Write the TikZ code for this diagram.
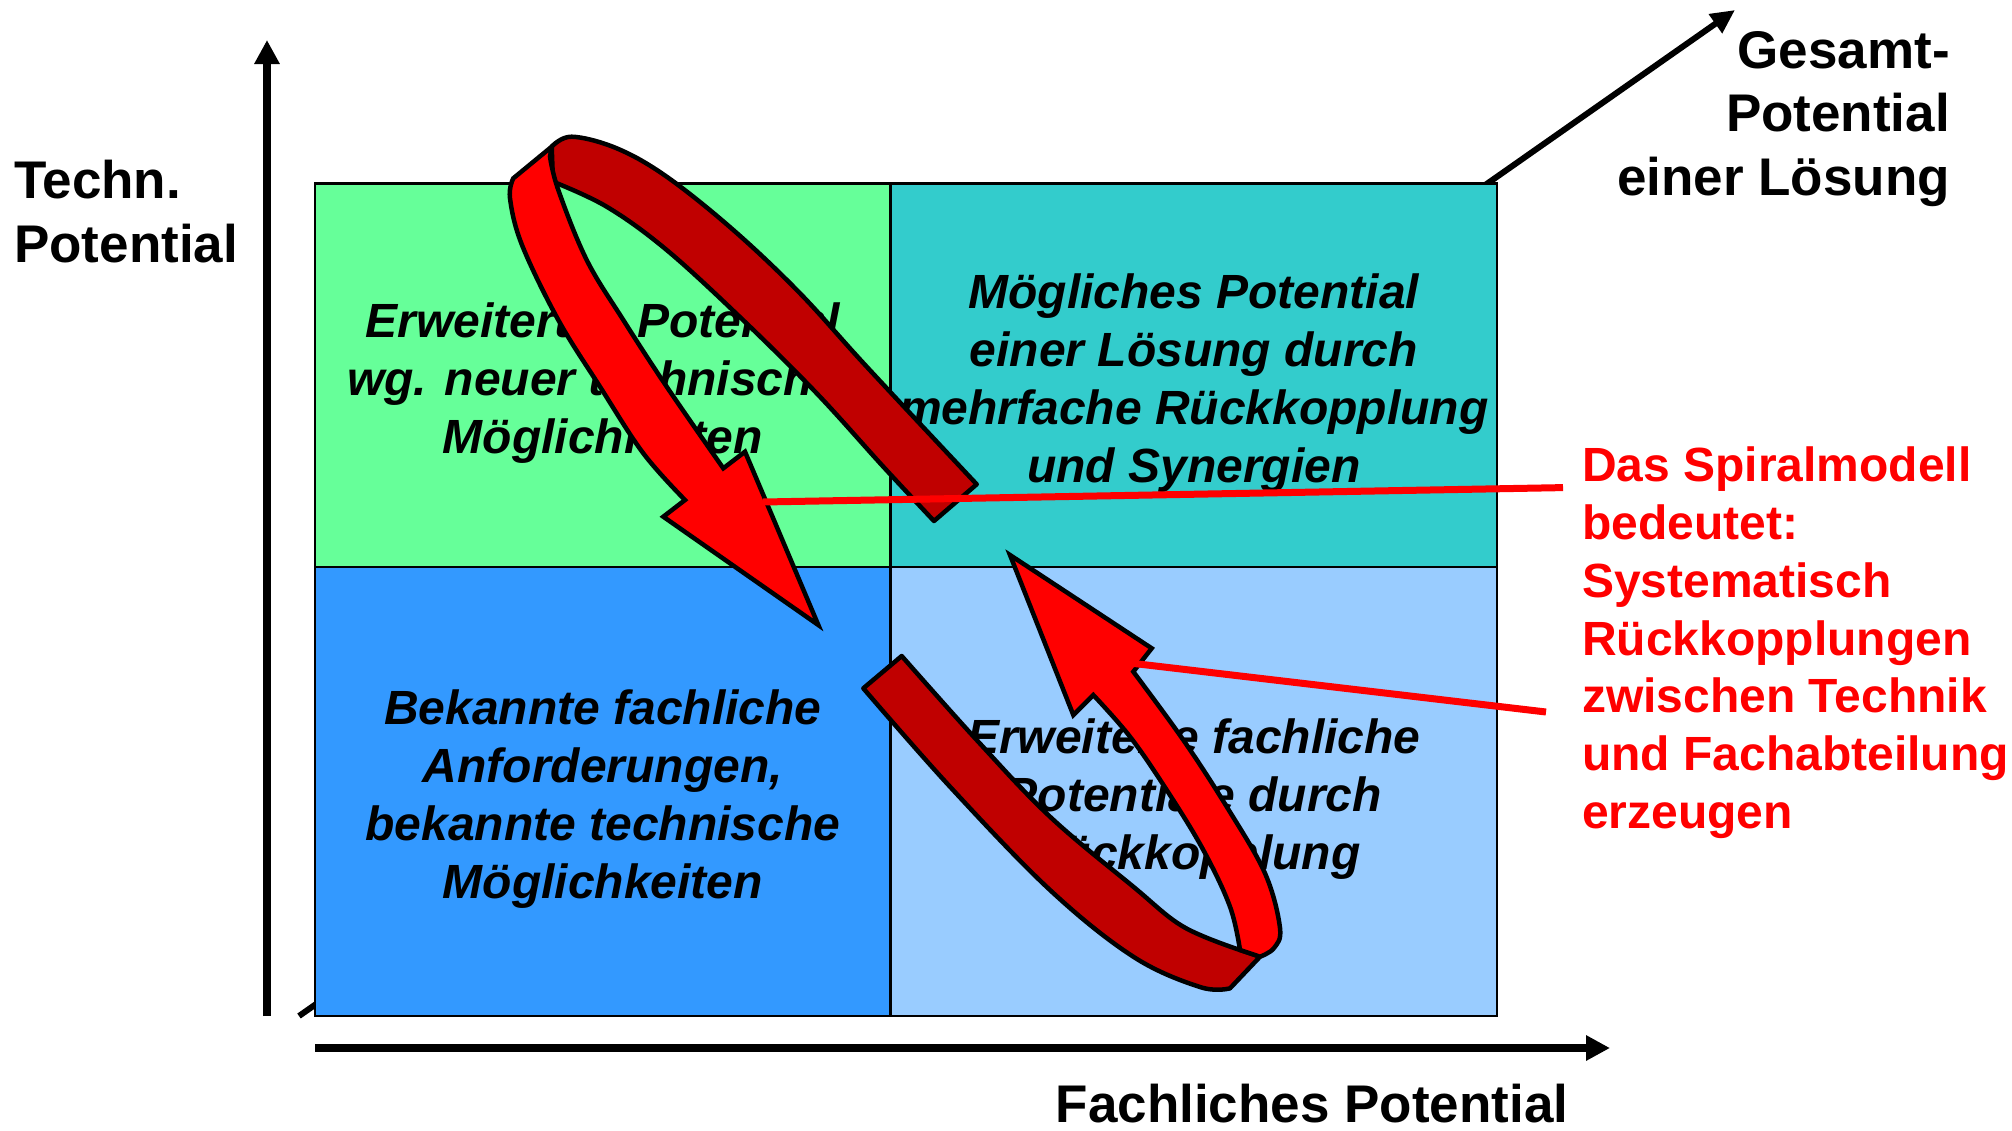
\documentclass[tikz,border=0pt]{standalone}
\usepackage{fontspec}
\setmainfont{Liberation Sans}
\usetikzlibrary{arrows.meta}
\definecolor{cgreen}{HTML}{66FF99}
\definecolor{cteal}{HTML}{33CCCC}
\definecolor{cblue}{HTML}{3399FF}
\definecolor{clight}{HTML}{99CCFF}
\definecolor{darkrib}{HTML}{C00000}
\definecolor{brightrib}{HTML}{FF0000}
\begin{document}
\begin{tikzpicture}[x=1pt,y=-1pt,
  cell/.style={draw=black, line width=2.5pt, inner sep=0pt},
  celltext/.style={inner sep=0pt, align=center, yshift=-8pt,
    font=\fontsize{48}{58}\selectfont\bfseries\itshape},
  axisarrow/.style={line width=7.5pt, -{Triangle[length=24pt,width=24pt]}},
  diagarrow/.style={line width=6pt, -{Triangle[length=24pt,width=22pt]}},
  axislabel/.style={inner sep=0pt, font=\fontsize{53}{63.5}\selectfont\bfseries},
  backrib/.style={fill=darkrib, draw=black, line width=4.5pt, line join=round},
  frontrib/.style={fill=brightrib, draw=black, line width=4.5pt, line join=miter},
  pointer/.style={draw=brightrib, line width=7pt},
  note/.style={inner sep=0pt, align=left, text=brightrib,
    font=\fontsize{48}{57.7}\selectfont\bfseries}]

\useasboundingbox (0,0) rectangle (2012,1130);

% diagonal axis (behind the grid)
\coordinate (dstart) at (299,1016);
\coordinate (dend) at (1735,10);
\draw[diagarrow] (dstart) -- (dend);

% grid cells
\node[cell, fill=cgreen, minimum width=575.5pt, minimum height=383.5pt,
  label={[celltext]center:{Erweitertes Potential\\wg. neuer technischer\\Möglichkeiten}}] (tl) at (602.75,375.25) {};
\node[cell, fill=cteal, minimum width=606.5pt, minimum height=383.5pt,
  label={[celltext]center:{Mögliches Potential\\einer Lösung durch\\mehrfache Rückkopplung\\und Synergien}}] (tr) at (1193.75,375.25) {};
\node[cell, fill=cblue, minimum width=575.5pt, minimum height=449pt,
  label={[celltext]center:{Bekannte fachliche\\Anforderungen,\\bekannte technische\\Möglichkeiten}}] (bl) at (602.75,791.5) {};
\node[cell, fill=clight, minimum width=606.5pt, minimum height=449pt,
  label={[celltext]center:{Erweiterte fachliche\\Potentiale durch\\Rückkopplung}}] (br) at (1193.75,791.5) {};

% axes
\coordinate (ybot) at (267,1016);
\coordinate (ytop) at (267,40);
\coordinate (xleft) at (315,1048);
\coordinate (xright) at (1610,1048);
\draw[axisarrow] (ybot) -- (ytop);
\draw[axisarrow] (xleft) -- (xright);

% upper spiral arrow
\path[backrib] (976.7,484.3)
  -- plot[smooth,tension=0.6] coordinates {(976.7,484.3) (866.7,366.7) (800,293.3) (733.3,230) (666.7,176.7) (616.7,148.3) (571.7,136.7) (551.7,146.7)}
  -- (553,181.7)
  -- plot[smooth,tension=0.6] coordinates {(553,181.7) (606.7,206.7) (666.7,250) (743,320) (816.7,393.3) (883.3,466.7) (934,521)}
  -- cycle;
\path[frontrib] (551.7,146.7) -- (513.3,178.3)
  -- plot[smooth,tension=0.6] coordinates {(513.3,178.3) (510,198.3) (522,245) (558.3,320) (600,386.7) (643.3,453.3) (685,500)}
  -- (663.3,516.7) -- (818.3,625) -- (745,451.7) -- (723.3,468.3)
  -- plot[smooth,tension=0.6] coordinates {(723.3,468.3) (666.7,386.7) (623.3,320) (586.7,260) (558.3,190) (550,156.7)}
  -- cycle;

% lower spiral arrow
\path[backrib] (901.7,656)
  -- plot[smooth,tension=0.6] coordinates {(901.7,656) (976.7,740) (1050,816.7) (1133.3,886.7) (1183.3,926.7) (1240,950)}
  -- (1260,956.7) -- (1230,988.3)
  -- plot[smooth,tension=0.6] coordinates {(1230,988.3) (1200,987) (1133.3,956.7) (1050,890) (950,786.7) (863.3,688.3)}
  -- cycle;
\path[frontrib] (1240,950) -- (1260,956.7)
  -- plot[smooth,tension=0.6] coordinates {(1260,956.7) (1274,948) (1280,928) (1265,873.3) (1226.7,806.7) (1183.3,740) (1133.3,671.7)}
  -- (1151.7,648.3) -- (1010,555) -- (1073.3,715) -- (1093.3,695)
  -- plot[smooth,tension=0.6] coordinates {(1093.3,695) (1130,736.7) (1166.7,790) (1203.3,850) (1230,906.7) (1240,950)}
  -- cycle;

% labels
\node[axislabel, anchor=north west, align=left] (techn) at (14,160) {Techn.\\Potential};
\node[axislabel, anchor=north east, align=right] (gesamt) at (1950,31) {Gesamt-\\Potential\\einer Lösung};
\node[axislabel] (fach) at (1312,1104) {Fachliches Potential};
\node[note, anchor=north west] (note) at (1582,447)
  {Das Spiralmodell\\bedeutet:\\Systematisch\\Rückkopplungen\\zwischen Technik\\und Fachabteilung\\erzeugen};

% pointer lines
\coordinate (p1s) at (763,502);
\coordinate (p1e) at (1563,487.6);
\coordinate (p2s) at (1130,663);
\coordinate (p2e) at (1546,712);
\draw[pointer] (p1s) -- (p1e);
\draw[pointer] (p2s) -- (p2e);
\end{tikzpicture}
\end{document}
